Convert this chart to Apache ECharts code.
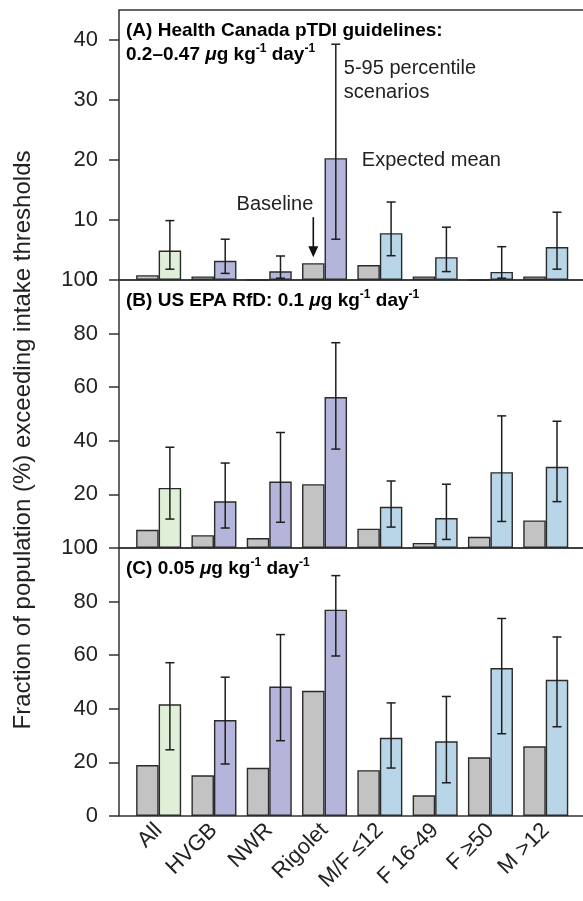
<!DOCTYPE html>
<html>
<head>
<meta charset="utf-8">
<script src="https://cdn.jsdelivr.net/npm/echarts@6/dist/echarts.min.js"></script>
<style>
  html, body { margin: 0; padding: 0; background: #fff; }
  #chart { width: 583px; height: 901px; }
</style>
</head>
<body>
<div id="chart"></div>
<script>
// Population groups along the x axis
const categories = ['All', 'HVGB', 'NWR', 'Rigolet', 'M/F ≤12', 'F 16-49', 'F ≥50', 'M >12'];
// Colour family of the scenario bar: whole population, region, demographic group
const groupType = ['all', 'region', 'region', 'region', 'demo', 'demo', 'demo', 'demo'];

// (A) Health Canada pTDI guidelines
const baselineA = [0.8, 0.6, 0, 2.8, 2.5, 0.6, 0, 0.6];
const meanA     = [4.9, 3.2, 1.45, 20.3, 7.8, 3.8, 1.35, 5.5];
const lowA      = [1.8, 1.1, 0.3, 6.8, 4.05, 1.4, 0.3, 1.8];
const highA     = [9.9, 6.8, 4.0, 39.3, 13.0, 8.8, 5.55, 11.3];

// (B) US EPA RfD
const baselineB = [6.8, 4.8, 3.7, 23.8, 7.2, 1.9, 4.2, 10.3];
const meanB     = [22.4, 17.4, 24.8, 56.3, 15.4, 11.2, 28.3, 30.3];
const lowB      = [10.8, 7.45, 9.6, 36.9, 7.8, 3.2, 9.9, 17.3];
const highB     = [37.6, 31.7, 43.1, 76.6, 25.0, 23.8, 49.3, 47.3];

// (C) 0.05 µg/kg/day
const baselineC = [19.0, 15.2, 18.0, 46.7, 17.1, 7.75, 21.9, 26.0];
const meanC     = [41.7, 35.8, 48.3, 77.0, 29.2, 27.9, 55.2, 50.8];
const lowC      = [24.7, 19.4, 28.1, 59.7, 17.9, 12.4, 30.7, 33.3];
const highC     = [57.2, 51.8, 67.7, 89.7, 42.2, 44.6, 73.7, 66.8];

// Y tick labels per panel
const ticksA  = [0, 10, 20, 30, 40];
const ticksBC = [0, 20, 40, 60, 80, 100];

const FONT = '"Liberation Sans", Arial, Helvetica, sans-serif';
const INK = '#222';
const BAR_W = 22.5;
const typeColor = { all: '#e0efd8', region: '#b5b5db', demo: '#b8d6e7' };
const GREY = '#c3c3c3';

const panels = [
  { top: 10,  height: 270, max: 45,  ticks: ticksA,  base: baselineA, mean: meanA, low: lowA, high: highA },
  { top: 280, height: 268, max: 100, ticks: ticksBC, base: baselineB, mean: meanB, low: lowB, high: highB },
  { top: 548, height: 268, max: 100, ticks: ticksBC, base: baselineC, mean: meanC, low: lowC, high: highC }
];

const grid = [], xAxis = [], yAxis = [], series = [];

panels.forEach((p, i) => {
  // plotting grid (bars)
  grid.push({ left: 131, right: 9.6, top: p.top, height: p.height,
              containLabel: false, outerBoundsMode: 'none' });
  xAxis.push({
    type: 'category', gridIndex: i, data: categories,
    axisLine: { show: false }, axisTick: { show: false },
    axisLabel: {
      show: i === 2, rotate: 45, margin: 11, interval: 0,
      fontFamily: FONT, fontSize: 22, color: INK
    },
    splitLine: { show: false }
  });
  yAxis.push({
    type: 'value', gridIndex: i, min: 0, max: p.max, offset: 12,
    axisLine: { show: false },
    axisTick: { show: true, inside: false, length: 10, customValues: p.ticks,
                lineStyle: { color: '#333', width: 1.5 } },
    axisLabel: { customValues: p.ticks, margin: 21, fontFamily: FONT, fontSize: 22, color: INK },
    splitLine: { show: false }
  });

  series.push({
    type: 'bar', xAxisIndex: i, yAxisIndex: i, data: p.base,
    barWidth: BAR_W, barGap: '0%',
    itemStyle: { color: GREY, borderColor: '#2b2b2b', borderWidth: 1.4 },
    emphasis: { disabled: true }, z: 3
  });
  series.push({
    type: 'bar', xAxisIndex: i, yAxisIndex: i,
    data: p.mean.map((v, k) => ({ value: v, itemStyle: { color: typeColor[groupType[k]] } })),
    barWidth: BAR_W, barGap: '0%',
    itemStyle: { borderColor: '#2b2b2b', borderWidth: 1.4 },
    emphasis: { disabled: true }, z: 3
  });
  // 5-95 percentile whiskers on the scenario bar
  series.push({
    type: 'custom', xAxisIndex: i, yAxisIndex: i, z: 5,
    data: categories.map((c, k) => [k, p.low[k], p.high[k]]),
    encode: { x: 0, y: [1, 2] },
    renderItem: (params, api) => {
      const k = api.value(0);
      const lo = api.coord([k, api.value(1)]);
      const hi = api.coord([k, api.value(2)]);
      const x = lo[0] + BAR_W / 2;
      const cap = 4.5;
      const st = { stroke: '#1e1e1e', lineWidth: 1.5 };
      return {
        type: 'group', children: [
          { type: 'line', shape: { x1: x, y1: lo[1], x2: x, y2: hi[1] }, style: st },
          { type: 'line', shape: { x1: x - cap, y1: hi[1], x2: x + cap, y2: hi[1] }, style: st },
          { type: 'line', shape: { x1: x - cap, y1: lo[1], x2: x + cap, y2: lo[1] }, style: st }
        ]
      };
    }
  });
});

// framing boxes (left edge, top edge, baseline) of each panel; the right side runs off the canvas
panels.forEach((p, i) => {
  grid.push({ left: 119, width: 480, top: p.top, height: p.height, show: true,
              outerBoundsMode: 'none', containLabel: false,
              borderColor: '#333', borderWidth: 1.5, backgroundColor: 'transparent' });
  xAxis.push({ type: 'value', gridIndex: 3 + i, show: false });
  yAxis.push({ type: 'value', gridIndex: 3 + i, show: false });
});

// Annotation of the Rigolet group in panel A
series.push({
  type: 'custom', xAxisIndex: 0, yAxisIndex: 0, z: 6, silent: true,
  data: [[3, baselineA[3], meanA[3], highA[3]]],
  renderItem: (params, api) => {
    const k = api.value(0);
    const b = api.coord([k, api.value(1)]);
    const m = api.coord([k, api.value(2)]);
    const h = api.coord([k, api.value(3)]);
    const gx = b[0] - BAR_W / 2;
    const ex = b[0] + BAR_W / 2;
    const tipY = b[1] - 6;
    const tailY = tipY - 40;
    const txt = { fontFamily: FONT, fontSize: 20, fill: INK };
    return {
      type: 'group', children: [
        { type: 'line', shape: { x1: gx, y1: tailY, x2: gx, y2: tipY - 9 },
          style: { stroke: '#111', lineWidth: 1.6 } },
        { type: 'polygon', shape: { points: [[gx - 5, tipY - 11], [gx + 5, tipY - 11], [gx, tipY]] },
          style: { fill: '#111' } },
        { type: 'text', x: gx, y: tailY - 13,
          style: Object.assign({ text: 'Baseline', align: 'right', verticalAlign: 'middle' }, txt) },
        { type: 'text', x: ex + 8, y: h[1] + 12,
          style: Object.assign({ text: '5-95 percentile\nscenarios', lineHeight: 24,
                                 align: 'left', verticalAlign: 'top' }, txt) },
        { type: 'text', x: ex + 26, y: m[1] + 2,
          style: Object.assign({ text: 'Expected mean', align: 'left', verticalAlign: 'middle' }, txt) }
      ]
    };
  }
});

const titleRich = {
  b:   { fontFamily: FONT, fontSize: 19, fontWeight: 'bold', color: '#111', lineHeight: 24 },
  bi:  { fontFamily: FONT, fontSize: 19, fontWeight: 'bold', fontStyle: 'italic', color: '#111', lineHeight: 24 },
  sup: { fontFamily: FONT, fontSize: 12, fontWeight: 'bold', color: '#111', lineHeight: 15, verticalAlign: 'top' }
};
const unit = '{bi|μ}{b|g kg}{sup|-1}{b| day}{sup|-1}';

const graphic = [
  { type: 'text', x: 126, y: 19, z: 10,
    style: { text: '{b|(A) Health Canada pTDI guidelines:}\n{b|0.2–0.47 }' + unit, rich: titleRich } },
  { type: 'text', x: 126, y: 289, z: 10,
    style: { text: '{b|(B) US EPA RfD: 0.1 }' + unit, rich: titleRich } },
  { type: 'text', x: 126, y: 557, z: 10,
    style: { text: '{b|(C) 0.05 }' + unit, rich: titleRich } },
  { type: 'text', x: 23, y: 440, rotation: Math.PI / 2, z: 10,
    style: { text: 'Fraction of population (%) exceeding intake thresholds',
             fontFamily: FONT, fontSize: 24, fill: INK,
             align: 'center', verticalAlign: 'middle' } }
];

const chart = echarts.init(document.getElementById('chart'), null, { renderer: 'canvas' });
chart.setOption({
  animation: false,
  backgroundColor: '#fff',
  grid, xAxis, yAxis, series, graphic
});
</script>
</body>
</html>
